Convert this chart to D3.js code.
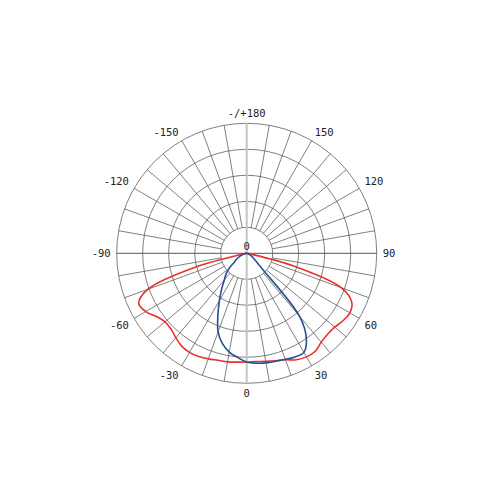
<!DOCTYPE html>
<html>
<head>
<meta charset="utf-8">
<script src="https://cdn.jsdelivr.net/npm/d3@7"></script>
<style>
  body { margin: 0; background: #fff; }
  .lbl { font-family: "DejaVu Sans Mono", monospace; font-size: 10.5px; fill: #222; }
</style>
</head>
<body>
<div class="chart"></div>
<script>
// gamma angles (deg), 0 = straight down, positive to the right
const gammas = d3.range(-90, 91, 5)

// luminous intensity, cd/klm
const redValues = [0, 2, 6, 100, 202, 229, 224, 212, 205, 206, 212, 218, 220, 219, 216, 213, 212, 210, 209,
                   209, 211, 214, 218, 226, 230, 230, 223, 220, 221, 226, 229, 223, 194, 92, 6, 2, 0]
const blueValues = [0, 2, 4, 7, 10, 16, 23, 28, 43, 56, 67, 84, 105, 131, 161, 180, 193, 201, 209,
                    212, 214, 215, 217, 220, 220, 200, 158, 42, 23, 15, 10, 6, 4, 2, 0, 0, 0]

const ringValues = [50, 100, 150, 200, 250]
const spokeAngles = d3.range(0, 360, 10)
const angleLabels = [
  {a: 0, t: "0"}, {a: 30, t: "30"}, {a: 60, t: "60"}, {a: 90, t: "90"},
  {a: 120, t: "120"}, {a: 150, t: "150"}, {a: 180, t: "-/+180"},
  {a: -150, t: "-150"}, {a: -120, t: "-120"}, {a: -90, t: "-90"},
  {a: -60, t: "-60"}, {a: -30, t: "-30"}
]

var width = 500, height = 500
var cx = 246.7, cy = 253.3

const svg = d3.select(".chart").append("svg")
    .attr("width", width)
    .attr("height", height)
    .append("g")
    .attr("transform", "translate(" + cx + "," + cy + ")")

const rScale = d3.scaleLinear()
    .domain([0, 250])
    .range([0, 130])

const rad = d => d * Math.PI / 180
const px = (g, r) => r * Math.sin(rad(g))
const py = (g, r) => r * Math.cos(rad(g))

// rings
svg.selectAll(".ring")
  .data(ringValues)
  .enter().append("circle")
    .attr("class", "ring")
    .attr("r", d => rScale(d))
    .attr("fill", "none")
    .attr("stroke", "#555")
    .attr("stroke-width", 0.75)

// spokes, from the first ring outwards
const r0 = rScale(ringValues[0]), r1 = rScale(ringValues[ringValues.length - 1])
svg.selectAll(".spoke")
  .data(spokeAngles.filter(a => a % 90 != 0))
  .enter().append("line")
    .attr("class", "spoke")
    .attr("x1", d => px(d, r0))
    .attr("y1", d => py(d, r0))
    .attr("x2", d => px(d, r1))
    .attr("y2", d => py(d, r1))
    .attr("stroke", "#555")
    .attr("stroke-width", 0.75)

// main axes
svg.append("line")
    .attr("x1", -r1).attr("x2", r1)
    .attr("y1", 0).attr("y2", 0)
    .attr("stroke", "#555")
    .attr("stroke-width", 1)

svg.append("line")
    .attr("x1", 0).attr("x2", 0)
    .attr("y1", -r1).attr("y2", r1)
    .attr("stroke", "#c4c4c4")
    .attr("stroke-width", 2)

// curves
const line = d3.lineRadial()
    .angle(d => Math.PI - rad(d[0]))
    .radius(d => rScale(d[1]))
    .curve(d3.curveCatmullRom.alpha(0.5))

svg.append("path")
    .datum(d3.zip(gammas, redValues))
    .attr("d", line)
    .attr("fill", "none")
    .attr("stroke", "#e8302c")
    .attr("stroke-width", 1.6)

svg.append("path")
    .datum(d3.zip(gammas, blueValues))
    .attr("d", line)
    .attr("fill", "none")
    .attr("stroke", "#2b4f8e")
    .attr("stroke-width", 1.6)

// angle labels
const lr = 136
svg.selectAll(".lbl")
  .data(angleLabels)
  .enter().append("text")
    .attr("class", "lbl")
    .attr("x", d => px(d.a, lr))
    .attr("y", d => py(d.a, lr))
    .attr("text-anchor", d => {
      let s = Math.sin(rad(d.a))
      return s > 0.1 ? "start" : (s < -0.1 ? "end" : "middle")
    })
    .attr("dominant-baseline", d => {
      let c = Math.cos(rad(d.a))
      return c > 0.1 ? "hanging" : (c < -0.1 ? "auto" : "central")
    })
    .text(d => d.t)

// center value
svg.append("text")
    .attr("class", "lbl")
    .attr("x", 0)
    .attr("y", -3)
    .attr("text-anchor", "middle")
    .text("0")
</script>
</body>
</html>
